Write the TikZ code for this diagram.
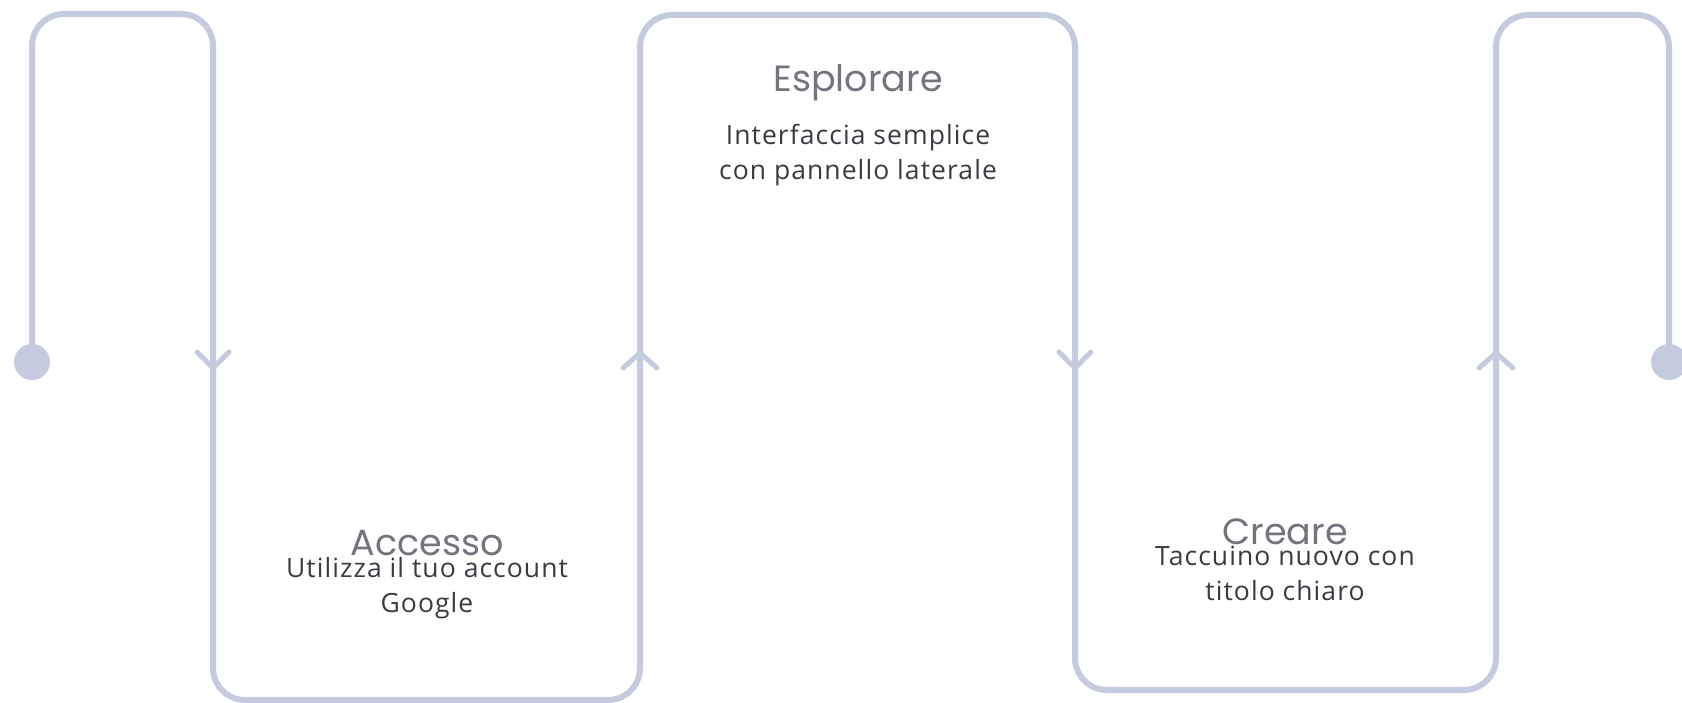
\documentclass[tikz,border=0pt]{standalone}
\usepackage{fontspec}
\usetikzlibrary{calc}
\setmainfont[LetterSpace=4]{Open Sans}
\newfontfamily\titlefont{Poppins}
\definecolor{flow}{RGB}{198,202,222}
\definecolor{titlegray}{RGB}{114,117,126}
\definecolor{bodygray}{RGB}{58,59,66}
\tikzset{
  flowline/.style={draw=flow, line width=6pt, line join=round},
  chevron/.style={draw=flow, line width=5pt, line cap=round, line join=round},
  titletext/.style={inner sep=0pt, anchor=base, text=titlegray, font=\titlefont\fontsize{36.5}{40}\selectfont},
  bodytext/.style={inner sep=0pt, anchor=base, text=bodygray, font=\fontsize{26.5}{35}\selectfont},
}
\begin{document}
\begin{tikzpicture}[x=1pt,y=-1pt]
\useasboundingbox (0,0) rectangle (1682,703);
% path corners
\coordinate (s) at (32,362);
\coordinate (c1) at (32,14);
\coordinate (c2) at (213,14);
\coordinate (c3) at (213,700);
\coordinate (c4) at (640,700);
\coordinate (c5) at (640,15);
\coordinate (c6) at (1075,15);
\coordinate (c7) at (1075,690);
\coordinate (c8) at (1496,690);
\coordinate (c9) at (1496,15);
\coordinate (c10) at (1669,15);
\coordinate (e) at (1669,362);
\draw[flowline, rounded corners=32pt] (s) -- (c1) -- (c2) -- (c3) -- (c4) -- (c5) -- (c6) -- (c7) -- (c8) -- (c9) -- (c10) -- (e);
\fill[flow] (s) circle (18);
\fill[flow] (e) circle (18);
% chevrons
\coordinate (a1) at (213,368);
\coordinate (a2) at (640,353);
\coordinate (a3) at (1075,368);
\coordinate (a4) at (1496,353);
\draw[chevron] ($(a1)+(-16,-16)$) -- (a1) -- ($(a1)+(16,-16)$);
\draw[chevron] ($(a2)+(-17,15)$) -- (a2) -- ($(a2)+(17,15)$);
\draw[chevron] ($(a3)+(-16,-16)$) -- (a3) -- ($(a3)+(16,-16)$);
\draw[chevron] ($(a4)+(-17,15)$) -- (a4) -- ($(a4)+(17,15)$);
% texts
\node[titletext] (t1) at (427,555) {Accesso};
\node[bodytext] (b1a) at (427,577) {Utilizza il tuo account};
\node[bodytext] (b1b) at (427,612) {Google};
\node[titletext] (t2) at (858,92) {Esplorare};
\node[bodytext] (b2a) at (858,145) {Interfaccia semplice};
\node[bodytext] (b2b) at (858,180) {con pannello laterale};
\node[titletext] (t3) at (1285,544) {Creare};
\node[bodytext] (b3a) at (1285,565) {Taccuino nuovo con};
\node[bodytext] (b3b) at (1285,600) {titolo chiaro};
\end{tikzpicture}
\end{document}
